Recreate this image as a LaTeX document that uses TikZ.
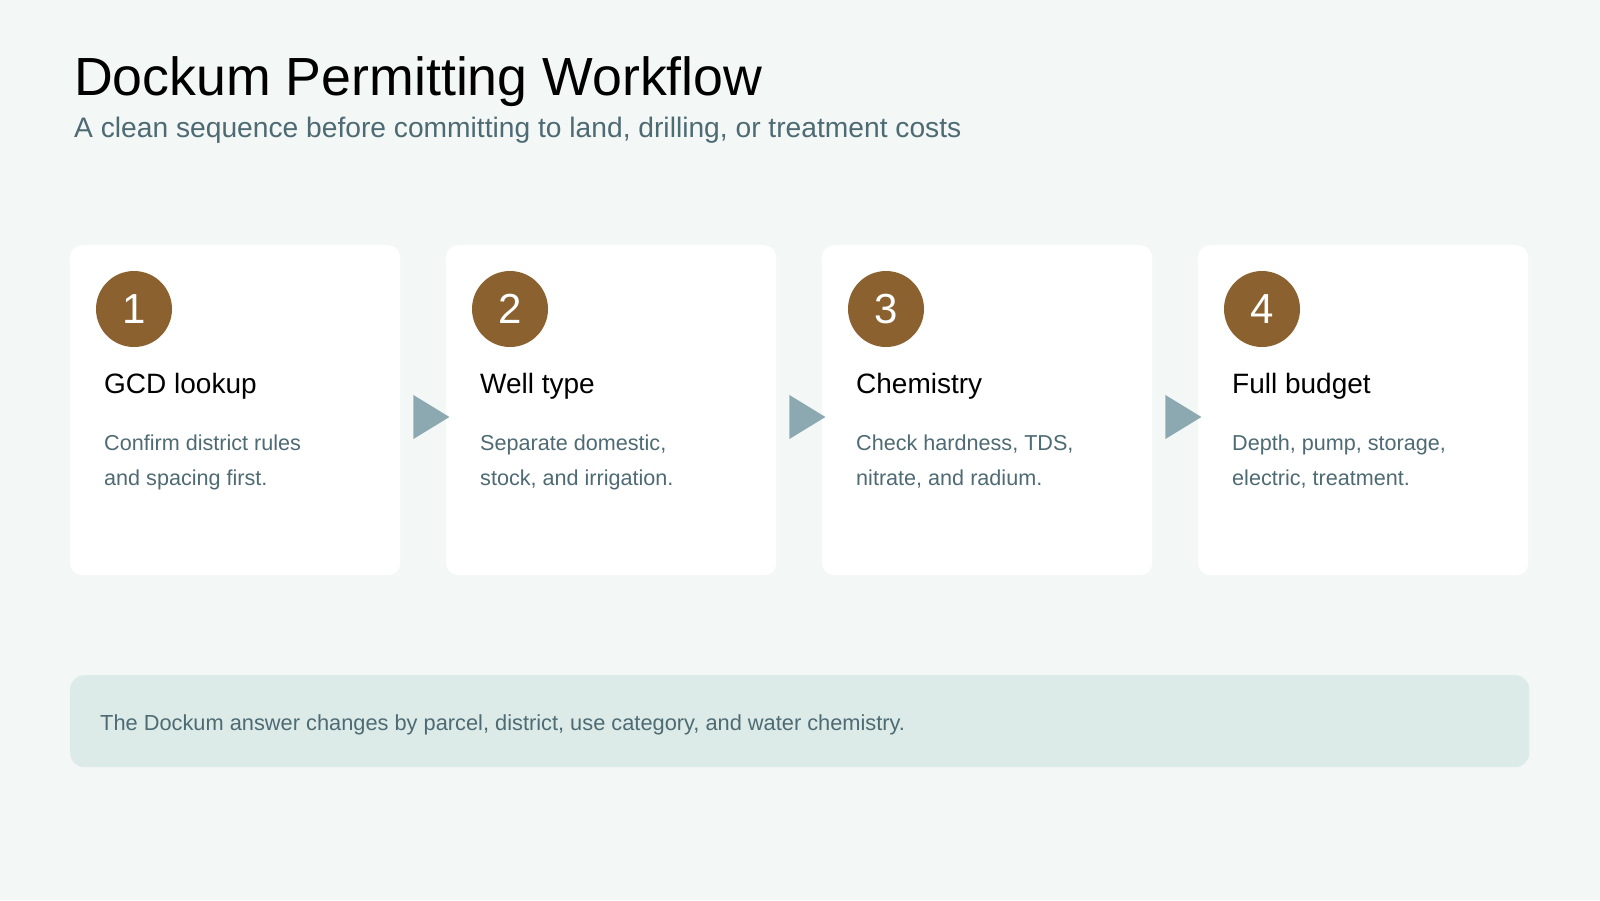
\documentclass[tikz,border=0pt]{standalone}
\usepackage{fontspec}
\setmainfont{Liberation Sans}
\usetikzlibrary{positioning}
\definecolor{pagebg}{HTML}{F3F7F6}
\definecolor{badgefill}{HTML}{8B6130}
\definecolor{arrowfill}{HTML}{8CA8B0}
\definecolor{slate}{HTML}{4E6A73}
\definecolor{notefill}{HTML}{DCEBE8}
\begin{document}
\begin{tikzpicture}[x=1pt, y=-1pt,
    card/.style={fill=white, rounded corners=12pt, minimum width=330pt, minimum height=330pt, anchor=north west, inner sep=0pt},
    badge/.style={circle, fill=badgefill, text=white, minimum size=76pt, inner sep=0pt, font=\fontsize{42}{42}\selectfont},
    head/.style={anchor=base west, inner sep=0pt, font=\fontsize{28}{30}\selectfont},
    body/.style={anchor=base west, inner sep=0pt, text=slate, font=\fontsize{21.6}{26}\selectfont}]
\fill[pagebg] (0,0) rectangle (1600,900);
\node[anchor=base west, inner sep=0pt, font=\fontsize{53.7}{60}\selectfont] (title) at (74,95) {Dockum Permitting Workflow};
\node[anchor=base west, inner sep=0pt, text=slate, font=\fontsize{28.2}{30}\selectfont] (subtitle) at (74,137) {A clean sequence before committing to land, drilling, or treatment costs};
% step cards
\foreach \i/\step/\lineA/\lineB in {1/{GCD lookup}/{Confirm district rules}/{and spacing first.},
    2/{Well type}/{Separate domestic,}/{stock, and irrigation.},
    3/{Chemistry}/{Check hardness, TDS,}/{nitrate, and radium.},
    4/{Full budget}/{Depth, pump, storage,}/{electric, treatment.}}{
  \node[card] (card\i) at ({70+(\i-1)*376},245) {};
  \node[badge] (num\i) at ([xshift=64pt, yshift=-64pt]card\i.north west) {\i};
  \node[head] (step\i) at ([xshift=34pt, yshift=-148pt]card\i.north west) {\step};
  \node[body] (bodyA\i) at ([xshift=34pt, yshift=-205pt]card\i.north west) {\lineA};
  \node[body] (bodyB\i) at ([xshift=34pt, yshift=-240pt]card\i.north west) {\lineB};
}
% arrows between cards
\foreach \i in {1,2,3}{
  \fill[arrowfill] ([xshift=13pt, yshift=-150pt]card\i.north east) -- ++(0,44) -- ++(36,-22) -- cycle;
}
% note
\node[fill=notefill, rounded corners=14pt, minimum width=1459pt, minimum height=92pt, anchor=north west, inner sep=0pt] (note) at (70,675) {};
\node[body, font=\fontsize{21.8}{26}\selectfont] (notetext) at (100,730) {The Dockum answer changes by parcel, district, use category, and water chemistry.};
\end{tikzpicture}
\end{document}
